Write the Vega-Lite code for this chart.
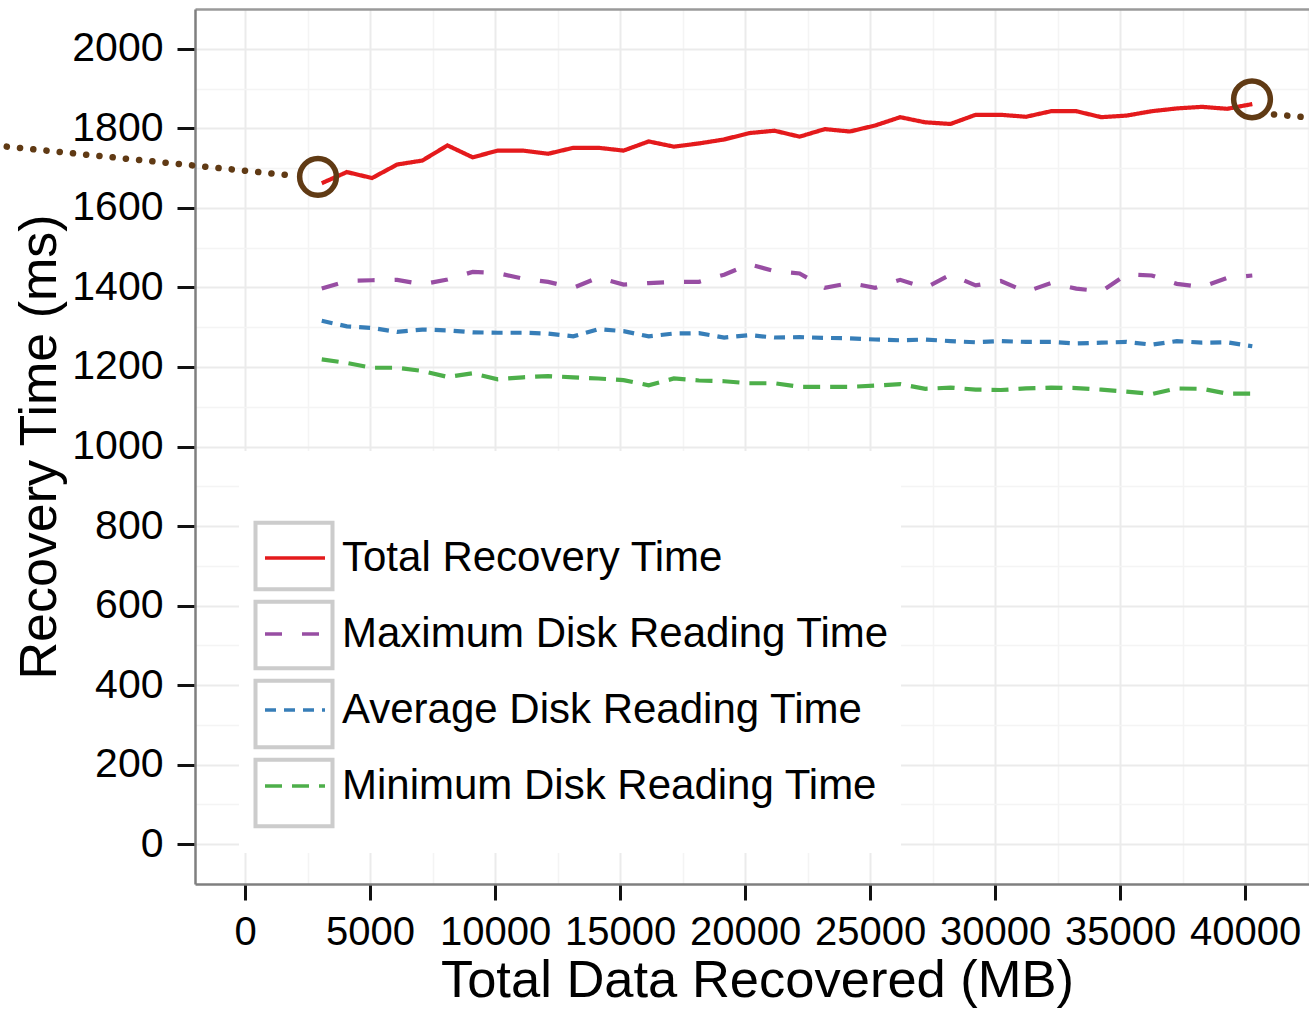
{
  "$schema": "https://vega.github.io/schema/vega-lite/v6.json",
  "autosize": {"type": "none"},
  "padding": {"left": 195, "top": 9, "right": 0, "bottom": 125},
  "width": 1114,
  "height": 875,
  "background": "white",
  "config": {"view": {"stroke": null}, "font": "Liberation Sans"},
  "datasets": {
    "series": [
      {"x": 3070, "v": 1662, "s": "Total Recovery Time"}, {"x": 4076, "v": 1690, "s": "Total Recovery Time"}, {"x": 5082, "v": 1675, "s": "Total Recovery Time"}, {"x": 6088, "v": 1709, "s": "Total Recovery Time"}, {"x": 7094, "v": 1719, "s": "Total Recovery Time"}, {"x": 8100, "v": 1757, "s": "Total Recovery Time"}, {"x": 9106, "v": 1727, "s": "Total Recovery Time"}, {"x": 10112, "v": 1744, "s": "Total Recovery Time"}, {"x": 11118, "v": 1744, "s": "Total Recovery Time"}, {"x": 12124, "v": 1736, "s": "Total Recovery Time"}, {"x": 13130, "v": 1751, "s": "Total Recovery Time"}, {"x": 14136, "v": 1751, "s": "Total Recovery Time"}, {"x": 15142, "v": 1744, "s": "Total Recovery Time"}, {"x": 16148, "v": 1767, "s": "Total Recovery Time"}, {"x": 17154, "v": 1754, "s": "Total Recovery Time"}, {"x": 18160, "v": 1762, "s": "Total Recovery Time"}, {"x": 19166, "v": 1772, "s": "Total Recovery Time"}, {"x": 20172, "v": 1788, "s": "Total Recovery Time"}, {"x": 21178, "v": 1794, "s": "Total Recovery Time"}, {"x": 22184, "v": 1779, "s": "Total Recovery Time"}, {"x": 23190, "v": 1798, "s": "Total Recovery Time"}, {"x": 24196, "v": 1792, "s": "Total Recovery Time"}, {"x": 25202, "v": 1807, "s": "Total Recovery Time"}, {"x": 26208, "v": 1828, "s": "Total Recovery Time"}, {"x": 27214, "v": 1815, "s": "Total Recovery Time"}, {"x": 28220, "v": 1811, "s": "Total Recovery Time"}, {"x": 29226, "v": 1834, "s": "Total Recovery Time"}, {"x": 30232, "v": 1834, "s": "Total Recovery Time"}, {"x": 31238, "v": 1829, "s": "Total Recovery Time"}, {"x": 32244, "v": 1843, "s": "Total Recovery Time"}, {"x": 33250, "v": 1843, "s": "Total Recovery Time"}, {"x": 34256, "v": 1828, "s": "Total Recovery Time"}, {"x": 35262, "v": 1832, "s": "Total Recovery Time"}, {"x": 36268, "v": 1843, "s": "Total Recovery Time"}, {"x": 37274, "v": 1850, "s": "Total Recovery Time"}, {"x": 38280, "v": 1854, "s": "Total Recovery Time"}, {"x": 39286, "v": 1849, "s": "Total Recovery Time"}, {"x": 40292, "v": 1861, "s": "Total Recovery Time"},
      {"x": 3070, "v": 1397, "s": "Maximum Disk Reading Time"}, {"x": 4076, "v": 1416, "s": "Maximum Disk Reading Time"}, {"x": 5082, "v": 1418, "s": "Maximum Disk Reading Time"}, {"x": 6088, "v": 1419, "s": "Maximum Disk Reading Time"}, {"x": 7094, "v": 1408, "s": "Maximum Disk Reading Time"}, {"x": 8100, "v": 1420, "s": "Maximum Disk Reading Time"}, {"x": 9106, "v": 1439, "s": "Maximum Disk Reading Time"}, {"x": 10112, "v": 1436, "s": "Maximum Disk Reading Time"}, {"x": 11118, "v": 1422, "s": "Maximum Disk Reading Time"}, {"x": 12124, "v": 1414, "s": "Maximum Disk Reading Time"}, {"x": 13130, "v": 1399, "s": "Maximum Disk Reading Time"}, {"x": 14136, "v": 1425, "s": "Maximum Disk Reading Time"}, {"x": 15142, "v": 1407, "s": "Maximum Disk Reading Time"}, {"x": 16148, "v": 1411, "s": "Maximum Disk Reading Time"}, {"x": 17154, "v": 1414, "s": "Maximum Disk Reading Time"}, {"x": 18160, "v": 1414, "s": "Maximum Disk Reading Time"}, {"x": 19166, "v": 1432, "s": "Maximum Disk Reading Time"}, {"x": 20172, "v": 1458, "s": "Maximum Disk Reading Time"}, {"x": 21178, "v": 1441, "s": "Maximum Disk Reading Time"}, {"x": 22184, "v": 1435, "s": "Maximum Disk Reading Time"}, {"x": 23190, "v": 1399, "s": "Maximum Disk Reading Time"}, {"x": 24196, "v": 1411, "s": "Maximum Disk Reading Time"}, {"x": 25202, "v": 1399, "s": "Maximum Disk Reading Time"}, {"x": 26208, "v": 1419, "s": "Maximum Disk Reading Time"}, {"x": 27214, "v": 1399, "s": "Maximum Disk Reading Time"}, {"x": 28220, "v": 1432, "s": "Maximum Disk Reading Time"}, {"x": 29226, "v": 1405, "s": "Maximum Disk Reading Time"}, {"x": 30232, "v": 1416, "s": "Maximum Disk Reading Time"}, {"x": 31238, "v": 1389, "s": "Maximum Disk Reading Time"}, {"x": 32244, "v": 1411, "s": "Maximum Disk Reading Time"}, {"x": 33250, "v": 1397, "s": "Maximum Disk Reading Time"}, {"x": 34256, "v": 1390, "s": "Maximum Disk Reading Time"}, {"x": 35262, "v": 1433, "s": "Maximum Disk Reading Time"}, {"x": 36268, "v": 1430, "s": "Maximum Disk Reading Time"}, {"x": 37274, "v": 1409, "s": "Maximum Disk Reading Time"}, {"x": 38280, "v": 1401, "s": "Maximum Disk Reading Time"}, {"x": 39286, "v": 1424, "s": "Maximum Disk Reading Time"}, {"x": 40292, "v": 1430, "s": "Maximum Disk Reading Time"},
      {"x": 3070, "v": 1316, "s": "Average Disk Reading Time"}, {"x": 4076, "v": 1302, "s": "Average Disk Reading Time"}, {"x": 5082, "v": 1298, "s": "Average Disk Reading Time"}, {"x": 6088, "v": 1288, "s": "Average Disk Reading Time"}, {"x": 7094, "v": 1294, "s": "Average Disk Reading Time"}, {"x": 8100, "v": 1292, "s": "Average Disk Reading Time"}, {"x": 9106, "v": 1287, "s": "Average Disk Reading Time"}, {"x": 10112, "v": 1286, "s": "Average Disk Reading Time"}, {"x": 11118, "v": 1286, "s": "Average Disk Reading Time"}, {"x": 12124, "v": 1284, "s": "Average Disk Reading Time"}, {"x": 13130, "v": 1277, "s": "Average Disk Reading Time"}, {"x": 14136, "v": 1295, "s": "Average Disk Reading Time"}, {"x": 15142, "v": 1290, "s": "Average Disk Reading Time"}, {"x": 16148, "v": 1277, "s": "Average Disk Reading Time"}, {"x": 17154, "v": 1284, "s": "Average Disk Reading Time"}, {"x": 18160, "v": 1285, "s": "Average Disk Reading Time"}, {"x": 19166, "v": 1274, "s": "Average Disk Reading Time"}, {"x": 20172, "v": 1280, "s": "Average Disk Reading Time"}, {"x": 21178, "v": 1274, "s": "Average Disk Reading Time"}, {"x": 22184, "v": 1275, "s": "Average Disk Reading Time"}, {"x": 23190, "v": 1273, "s": "Average Disk Reading Time"}, {"x": 24196, "v": 1272, "s": "Average Disk Reading Time"}, {"x": 25202, "v": 1269, "s": "Average Disk Reading Time"}, {"x": 26208, "v": 1267, "s": "Average Disk Reading Time"}, {"x": 27214, "v": 1269, "s": "Average Disk Reading Time"}, {"x": 28220, "v": 1265, "s": "Average Disk Reading Time"}, {"x": 29226, "v": 1262, "s": "Average Disk Reading Time"}, {"x": 30232, "v": 1265, "s": "Average Disk Reading Time"}, {"x": 31238, "v": 1263, "s": "Average Disk Reading Time"}, {"x": 32244, "v": 1263, "s": "Average Disk Reading Time"}, {"x": 33250, "v": 1259, "s": "Average Disk Reading Time"}, {"x": 34256, "v": 1261, "s": "Average Disk Reading Time"}, {"x": 35262, "v": 1263, "s": "Average Disk Reading Time"}, {"x": 36268, "v": 1256, "s": "Average Disk Reading Time"}, {"x": 37274, "v": 1265, "s": "Average Disk Reading Time"}, {"x": 38280, "v": 1261, "s": "Average Disk Reading Time"}, {"x": 39286, "v": 1262, "s": "Average Disk Reading Time"}, {"x": 40292, "v": 1252, "s": "Average Disk Reading Time"},
      {"x": 3070, "v": 1219, "s": "Minimum Disk Reading Time"}, {"x": 4076, "v": 1210, "s": "Minimum Disk Reading Time"}, {"x": 5082, "v": 1198, "s": "Minimum Disk Reading Time"}, {"x": 6088, "v": 1198, "s": "Minimum Disk Reading Time"}, {"x": 7094, "v": 1190, "s": "Minimum Disk Reading Time"}, {"x": 8100, "v": 1175, "s": "Minimum Disk Reading Time"}, {"x": 9106, "v": 1184, "s": "Minimum Disk Reading Time"}, {"x": 10112, "v": 1169, "s": "Minimum Disk Reading Time"}, {"x": 11118, "v": 1174, "s": "Minimum Disk Reading Time"}, {"x": 12124, "v": 1177, "s": "Minimum Disk Reading Time"}, {"x": 13130, "v": 1174, "s": "Minimum Disk Reading Time"}, {"x": 14136, "v": 1171, "s": "Minimum Disk Reading Time"}, {"x": 15142, "v": 1167, "s": "Minimum Disk Reading Time"}, {"x": 16148, "v": 1154, "s": "Minimum Disk Reading Time"}, {"x": 17154, "v": 1171, "s": "Minimum Disk Reading Time"}, {"x": 18160, "v": 1166, "s": "Minimum Disk Reading Time"}, {"x": 19166, "v": 1164, "s": "Minimum Disk Reading Time"}, {"x": 20172, "v": 1159, "s": "Minimum Disk Reading Time"}, {"x": 21178, "v": 1159, "s": "Minimum Disk Reading Time"}, {"x": 22184, "v": 1150, "s": "Minimum Disk Reading Time"}, {"x": 23190, "v": 1150, "s": "Minimum Disk Reading Time"}, {"x": 24196, "v": 1150, "s": "Minimum Disk Reading Time"}, {"x": 25202, "v": 1153, "s": "Minimum Disk Reading Time"}, {"x": 26208, "v": 1157, "s": "Minimum Disk Reading Time"}, {"x": 27214, "v": 1145, "s": "Minimum Disk Reading Time"}, {"x": 28220, "v": 1148, "s": "Minimum Disk Reading Time"}, {"x": 29226, "v": 1143, "s": "Minimum Disk Reading Time"}, {"x": 30232, "v": 1142, "s": "Minimum Disk Reading Time"}, {"x": 31238, "v": 1146, "s": "Minimum Disk Reading Time"}, {"x": 32244, "v": 1148, "s": "Minimum Disk Reading Time"}, {"x": 33250, "v": 1147, "s": "Minimum Disk Reading Time"}, {"x": 34256, "v": 1143, "s": "Minimum Disk Reading Time"}, {"x": 35262, "v": 1138, "s": "Minimum Disk Reading Time"}, {"x": 36268, "v": 1132, "s": "Minimum Disk Reading Time"}, {"x": 37274, "v": 1146, "s": "Minimum Disk Reading Time"}, {"x": 38280, "v": 1145, "s": "Minimum Disk Reading Time"}, {"x": 39286, "v": 1133, "s": "Minimum Disk Reading Time"}, {"x": 40292, "v": 1133, "s": "Minimum Disk Reading Time"}
    ],
    "circles": [{"x": 2920, "v": 1678}, {"x": 40280, "v": 1873}],
    "dots": [
      {"x": -9530, "v": 1754, "g": "left"}, {"x": 1630, "v": 1683, "g": "left"},
      {"x": 41160, "v": 1835, "g": "right"}, {"x": 43400, "v": 1822, "g": "right"}
    ],
    "keys": [
      {"k": "Total Recovery Time."}, {"k": "Maximum Disk Reading Time."}, {"k": "Average Disk Reading Time."}, {"k": "Minimum Disk Reading Time."}
    ]
  },
  "resolve": {"axis": {"x": "independent", "y": "independent"}},
  "layer": [
    {
      "data": {"name": "series"},
      "mark": {"type": "line", "strokeWidth": 4.2, "clip": false},
      "encoding": {
        "x": {
          "field": "x", "type": "quantitative",
          "scale": {"domain": [-2000, 42560], "nice": false, "zero": false},
          "axis": {
            "orient": "bottom",
            "values": [0, 5000, 10000, 15000, 20000, 25000, 30000, 35000, 40000],
            "format": "d",
            "title": "Total Data Recovered (MB)",
            "grid": true, "gridColor": "#EBEBEB", "gridWidth": 2,
            "domain": true, "domainColor": "#7f7f7f", "domainWidth": 2.5,
            "ticks": true, "tickColor": "#111111", "tickWidth": 3, "tickSize": 16,
            "labelFont": "Liberation Sans", "labelFontSize": 40, "labelColor": "#000000", "labelPadding": 12, "labelOverlap": false, "labelFlush": false,
            "titleFont": "Liberation Sans", "titleFontSize": 52.5, "titleFontWeight": "normal", "titleColor": "#000000", "titlePadding": 3, "titleX": 562
          }
        },
        "y": {
          "field": "v", "type": "quantitative",
          "scale": {"domain": [-100, 2100], "nice": false, "zero": false},
          "axis": {
            "orient": "left",
            "values": [0, 200, 400, 600, 800, 1000, 1200, 1400, 1600, 1800, 2000],
            "format": "d",
            "title": "Recovery Time (ms)",
            "grid": true, "gridColor": "#EBEBEB", "gridWidth": 2,
            "domain": true, "domainColor": "#7f7f7f", "domainWidth": 2.5,
            "ticks": true, "tickColor": "#111111", "tickWidth": 3, "tickSize": 18,
            "labelFont": "Liberation Sans", "labelFontSize": 41, "labelColor": "#000000", "labelPadding": 14, "labelOverlap": false, "labelFlush": false,
            "titleFont": "Liberation Sans", "titleFontSize": 52, "titleFontWeight": "normal", "titleColor": "#000000", "titlePadding": 5
          }
        },
        "color": {
          "field": "s", "type": "nominal",
          "scale": {
            "domain": ["Total Recovery Time", "Maximum Disk Reading Time", "Average Disk Reading Time", "Minimum Disk Reading Time"],
            "range": ["#E41A1C", "#984EA3", "#377EB8", "#4DAF4A"]
          },
          "legend": {
            "orient": "none", "legendX": 68, "legendY": 517, "zindex": 2,
            "title": null, "padding": 0,
            "symbolType": "stroke", "symbolSize": 3600, "symbolStrokeWidth": 3.5,
            "labelFont": "Liberation Sans", "labelFontSize": 42, "labelColor": "#000000", "labelOffset": 15, "labelLimit": 1000,
            "rowPadding": 23
          }
        },
        "strokeDash": {
          "field": "s", "type": "nominal",
          "scale": {
            "domain": ["Total Recovery Time", "Maximum Disk Reading Time", "Average Disk Reading Time", "Minimum Disk Reading Time"],
            "range": [[1, 0], [17, 20], [11, 8], [17, 10]]
          },
          "legend": null
        }
      }
    },
    {
      "data": {"name": "keys"},
      "mark": {"type": "point", "size": 0, "color": "#cccccc", "strokeWidth": 4, "filled": false},
      "encoding": {
        "shape": {
          "field": "k", "type": "nominal",
          "scale": {
            "domain": ["Total Recovery Time.", "Maximum Disk Reading Time.", "Average Disk Reading Time.", "Minimum Disk Reading Time."],
            "range": ["M-1.1,-0.95H1.1V0.95H-1.1Z", "M-1.1,-0.95H1.1V0.95H-1.1Z", "M-1.1,-0.95H1.1V0.95H-1.1Z", "M-1.1,-0.95H1.1V0.95H-1.1Z"]
          },
          "legend": {
            "orient": "none", "legendX": 44, "legendY": 442, "zindex": 1,
            "title": ".", "titleColor": "#ffffff", "titleFontSize": 40, "titlePadding": 10,
            "padding": 18, "fillColor": "#ffffff",
            "symbolSize": 4900, "symbolStrokeColor": "#cccccc", "symbolStrokeWidth": 4, "symbolFillColor": "transparent", "symbolOpacity": 1,
            "labelFont": "Liberation Sans", "labelFontSize": 10, "labelOpacity": 0, "labelOffset": 419, "labelLimit": 1000,
            "rowPadding": -16
          }
        }
      }
    },
    {
      "data": {"name": "dots"},
      "mark": {"type": "line", "color": "#603a14", "strokeWidth": 6.5, "strokeDash": [0.1, 13.2], "strokeCap": "round", "clip": false},
      "encoding": {
        "x": {"field": "x", "type": "quantitative", "axis": {
          "orient": "top", "values": [2500, 7500, 12500, 17500, 22500, 27500, 32500, 37500, 42500],
          "grid": true, "gridColor": "#F4F4F4", "gridWidth": 1.5,
          "labels": false, "ticks": false, "title": null,
          "domain": true, "domainColor": "#9a9a9a", "domainWidth": 2.5
        }},
        "y": {"field": "v", "type": "quantitative", "axis": {
          "orient": "right", "values": [100, 300, 500, 700, 900, 1100, 1300, 1500, 1700, 1900],
          "grid": true, "gridColor": "#F4F4F4", "gridWidth": 1.5,
          "labels": false, "ticks": false, "title": null, "domain": false
        }},
        "detail": {"field": "g", "type": "nominal"}
      }
    },
    {
      "data": {"name": "circles"},
      "mark": {"type": "point", "shape": "circle", "filled": false, "size": 1350, "color": "#603a14", "strokeWidth": 5.5, "opacity": 1, "clip": false},
      "encoding": {
        "x": {"field": "x", "type": "quantitative", "axis": null},
        "y": {"field": "v", "type": "quantitative", "axis": null}
      }
    }
  ]
}
